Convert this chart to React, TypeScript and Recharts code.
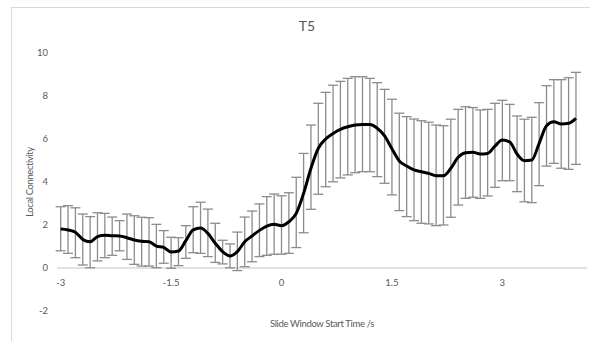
import React from "react";
import { LineChart, Line, XAxis, YAxis, ErrorBar, ReferenceLine } from "recharts";

// Slide window start times (s)
const times = [
  -3.0, -2.9, -2.8, -2.7, -2.6, -2.5, -2.4, -2.3, -2.2, -2.1,
  -2.0, -1.9, -1.8, -1.7, -1.6, -1.5, -1.4, -1.3, -1.2, -1.1,
  -1.0, -0.9, -0.8, -0.7, -0.6, -0.5, -0.4, -0.3, -0.2, -0.1,
  0.0, 0.1, 0.2, 0.3, 0.4, 0.5, 0.6, 0.7, 0.8, 0.9,
  1.0, 1.1, 1.2, 1.3, 1.4, 1.5, 1.6, 1.7, 1.8, 1.9,
  2.0, 2.1, 2.2, 2.3, 2.4, 2.5, 2.6, 2.7, 2.8, 2.9,
  3.0, 3.1, 3.2, 3.3, 3.4, 3.5, 3.6, 3.7, 3.8, 3.9,
  4.0,
];

// Mean local connectivity per window
const meanValues = [
  1.81, 1.77, 1.66, 1.33, 1.22, 1.46, 1.52, 1.5, 1.49, 1.41,
  1.3, 1.24, 1.22, 1.02, 0.96, 0.74, 0.79, 1.27, 1.77, 1.86,
  1.61, 1.15, 0.76, 0.56, 0.76, 1.22, 1.49, 1.75, 1.95, 2.03,
  1.97, 2.15, 2.54, 3.47, 4.64, 5.57, 6.0, 6.26, 6.45, 6.57,
  6.65, 6.68, 6.67, 6.5, 6.14, 5.55, 4.98, 4.74, 4.56, 4.48,
  4.4, 4.29, 4.29, 4.64, 5.15, 5.36, 5.38, 5.3, 5.33, 5.67,
  5.95, 5.86, 5.3, 4.99, 5.02, 5.8, 6.62, 6.8, 6.7, 6.73,
  6.96,
];

// Upper end of each error bar
const upperValues = [
  2.85, 2.9, 2.8, 2.51, 2.39, 2.57, 2.54, 2.37, 2.2, 2.51,
  2.43, 2.36, 2.34, 2.03, 1.74, 1.43, 1.41, 1.97, 2.85, 3.06,
  2.74, 2.08, 1.29, 1.12, 1.67, 2.37, 2.65, 2.98, 3.32, 3.44,
  3.36, 3.5, 4.22, 5.33, 6.65, 7.66, 8.17, 8.5, 8.68, 8.82,
  8.9, 8.9, 8.82, 8.62, 8.31, 7.85, 7.2, 7.04, 6.93, 6.85,
  6.78, 6.65, 6.62, 6.92, 7.38, 7.5, 7.46, 7.35, 7.38, 7.66,
  7.8, 7.61, 7.07, 6.92, 7.01, 7.69, 8.48, 8.76, 8.76, 8.85,
  9.1,
];

// Lower end of each error bar
const lowerValues = [
  0.8, 0.68, 0.48, 0.14, 0.01, 0.33, 0.48, 0.59, 0.8, 0.4,
  0.17, 0.09, 0.09, 0.01, 0.22, -0.01, 0.11, 0.45, 0.71, 0.68,
  0.53, 0.26, 0.19, 0.01, -0.12, 0.06, 0.29, 0.53, 0.59, 0.64,
  0.64, 0.68, 0.95, 1.64, 2.73, 3.43, 3.78, 4.01, 4.19, 4.33,
  4.43, 4.48, 4.48, 4.25, 3.94, 3.4, 2.67, 2.39, 2.2, 2.08,
  2.05, 1.97, 2.0, 2.36, 2.93, 3.24, 3.29, 3.24, 3.35, 3.75,
  4.06, 4.06, 3.55, 3.08, 3.04, 3.83, 4.74, 4.87, 4.64, 4.59,
  4.82,
];

const xTicks = [-3, -1.5, 0, 1.5, 3];
const yTicks = [-2, 0, 2, 4, 6, 8, 10];

const data = times.map((t, i) => ({
  t,
  mean: meanValues[i],
  err: [
    +(meanValues[i] - lowerValues[i]).toFixed(3),
    +(upperValues[i] - meanValues[i]).toFixed(3),
  ],
}));

const FONT = "Lato, 'Open Sans', sans-serif";
const TEXT = "#595959";

const XTick = (props: any) => {
  const { x, y, payload } = props;
  return (
    <text x={x} y={y} dy={-33} textAnchor="middle" fill={TEXT} fontSize={9.5} fontFamily={FONT}>
      {String(payload.value)}
    </text>
  );
};

const YTitle = (props: any) => {
  const vb = props.viewBox || {};
  const cx = (vb.x || 0) + 29;
  const cy = (vb.y || 0) + (vb.height || 0) / 2;
  return (
    <text
      x={cx}
      y={cy}
      transform={`rotate(-90 ${cx} ${cy})`}
      textAnchor="middle"
      dominantBaseline="central"
      fill={TEXT}
      fontSize={9.5}
      letterSpacing={-0.4}
      fontFamily={FONT}
    >
      Local Connectivity
    </text>
  );
};

export default function App() {
  return (
    <div
      style={{
        position: "absolute",
        left: 0,
        top: 0,
        width: 590,
        height: 341,
        overflow: "hidden",
        background: "#fff",
      }}
    >
      <div
        style={{
          position: "absolute",
          left: 11,
          top: 7,
          width: 640,
          height: 400,
          border: "1px solid #d9d9d9",
        }}
      />
      <div
        style={{
          position: "absolute",
          left: 257,
          width: 100,
          top: 17,
          textAlign: "center",
          fontFamily: FONT,
          fontSize: 14,
          color: TEXT,
          lineHeight: "18px",
        }}
      >
        T5
      </div>
      <div style={{ position: "absolute", left: 0, top: 0 }}>
        <LineChart
          width={590}
          height={341}
          data={data}
          margin={{ top: 53, right: 3, bottom: 0, left: 0 }}
        >
          <XAxis
            dataKey="t"
            type="number"
            domain={[-3.05, 4.15]}
            ticks={xTicks}
            allowDataOverflow
            axisLine={false}
            tickLine={false}
            tick={<XTick />}
            height={30}
            label={{
              value: "Slide Window Start Time /s",
              position: "insideBottom",
              offset: 14,
              fill: TEXT,
              fontSize: 9.5,
              letterSpacing: -0.35,
              fontFamily: FONT,
            }}
          />
          <YAxis
            type="number"
            domain={[-2, 10]}
            ticks={yTicks}
            allowDataOverflow
            width={57}
            axisLine={false}
            tickLine={false}
            tickMargin={3}
            tick={{ fill: TEXT, fontSize: 9.5, fontFamily: FONT }}
            label={<YTitle />}
          />
          <ReferenceLine y={0} stroke="#d9d9d9" strokeWidth={1.5} ifOverflow="extendDomain" />
          <Line
            dataKey="mean"
            stroke="none"
            dot={false}
            activeDot={false}
            isAnimationActive={false}
          >
            <ErrorBar dataKey="err" width={5} stroke="#8c8c8c" strokeWidth={1.3} direction="y" />
          </Line>
          <Line
            dataKey="mean"
            type="monotone"
            stroke="#000"
            strokeWidth={3}
            dot={false}
            activeDot={false}
            isAnimationActive={false}
          />
        </LineChart>
      </div>
    </div>
  );
}
